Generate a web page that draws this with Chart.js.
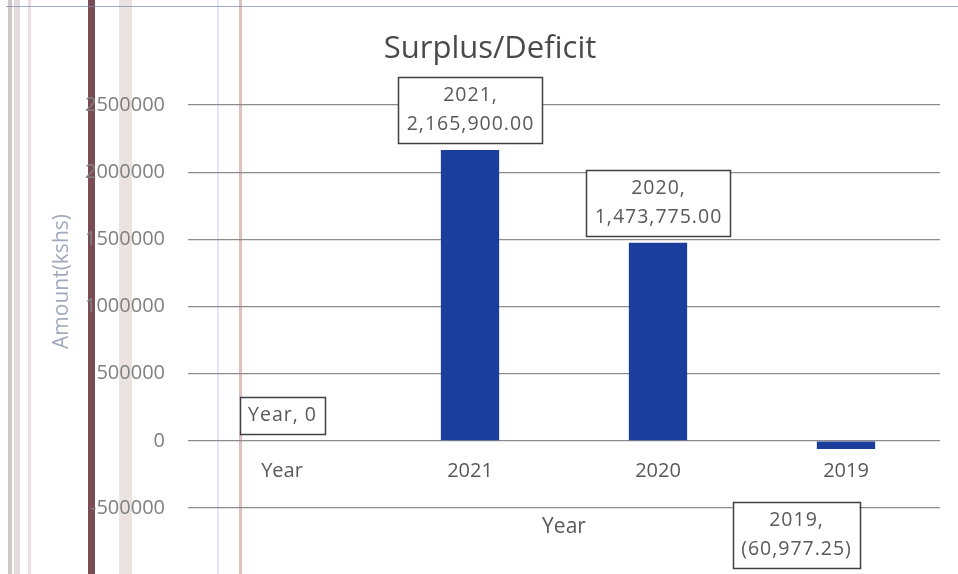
<!DOCTYPE html>
<html><head><meta charset="utf-8">
<script src="https://cdn.jsdelivr.net/npm/chart.js@4.4.1/dist/chart.umd.min.js"></script>
<style>html,body{margin:0;padding:0;background:#fff}#wrap{width:958px;height:574px;position:relative}</style>
</head><body><div id="wrap"><canvas id="c" width="958" height="574"></canvas></div>
<script>
// ---- data ----
const categories = ['Year', '2021', '2020', '2019'];
const surplusValues = [0, 2165900.00, 1473775.00, -60977.25];
const yTickValues = [-500000, 0, 500000, 1000000, 1500000, 2000000, 2500000];
const chartTitle = 'Surplus/Deficit';
const xTitle = 'Year';
const yTitle = 'Amount(kshs)';

const FONT = '"Open Sans"';

function fmtValue(v) {
  const s = Math.abs(v).toLocaleString('en-US', {minimumFractionDigits: 2, maximumFractionDigits: 2});
  return v < 0 ? '(' + s + ')' : s;
}

// faint scan-like frame lines behind the chart
const backdrop = {
  id: 'backdrop',
  beforeDraw(chart) {
    const ctx = chart.ctx;
    ctx.save();
    ctx.fillStyle = '#ffffff';
    ctx.fillRect(0, 0, chart.width, chart.height);
    const bands = [
      [8, 4, 'rgba(150,130,130,0.45)'], [14, 6, 'rgba(200,185,185,0.5)'], [28, 3, 'rgba(215,190,190,0.5)'],
      [88, 7, 'rgba(110,55,65,0.9)'], [119, 13, 'rgba(225,210,210,0.65)'],
      [217, 2, 'rgba(200,205,235,0.5)'], [239, 3, 'rgba(200,140,140,0.55)']
    ];
    bands.forEach(([x, w, c]) => { ctx.fillStyle = c; ctx.fillRect(x, 0, w, chart.height); });
    ctx.strokeStyle = 'rgba(120,135,175,0.7)';
    ctx.lineWidth = 1;
    ctx.beginPath(); ctx.moveTo(6, 6.5); ctx.lineTo(chart.width, 6.5); ctx.stroke();
    ctx.restore();
  }
};

// boxed data labels ("category, value")
const boxLabels = {
  id: 'boxLabels',
  afterDatasetsDraw(chart) {
    const ctx = chart.ctx;
    const meta = chart.getDatasetMeta(0);
    ctx.save();
    ctx.font = '19.5px ' + FONT;
    if ('letterSpacing' in ctx) ctx.letterSpacing = '1px';
    ctx.textAlign = 'center';
    ctx.textBaseline = 'middle';
    meta.data.forEach((bar, i) => {
      const v = surplusValues[i];
      const lines = v === 0 ? [categories[i] + ', 0'] : [categories[i] + ',', fmtValue(v)];
      const lh = 29;
      const w = Math.max(...lines.map(l => ctx.measureText(l).width)) + 16;
      const h = lines.length * lh + 8;
      let cx = bar.x, top;
      if (v >= 0) top = bar.y - 7 - h;
      else { cx = bar.x - 50; top = bar.y + 53; }
      const left = cx - w / 2;
      ctx.fillStyle = '#ffffff';
      ctx.fillRect(left, top, w, h);
      ctx.strokeStyle = '#404040';
      ctx.lineWidth = 1.5;
      ctx.strokeRect(Math.round(left) + 0.5, Math.round(top) + 0.5, Math.round(w), Math.round(h));
      ctx.fillStyle = '#595959';
      lines.forEach((l, k) => ctx.fillText(l, cx + 0.5, top + 4 + lh * (k + 0.5)));
    });
    ctx.restore();
  }
};

// y axis title drawn alongside the axis
const yAxisTitle = {
  id: 'yAxisTitle',
  afterDraw(chart) {
    const ctx = chart.ctx;
    const a = chart.chartArea;
    ctx.save();
    ctx.translate(62, (a.top + a.bottom) / 2 - 25);
    ctx.rotate(-Math.PI / 2);
    ctx.font = '21px ' + FONT;
    ctx.fillStyle = '#a3aabd';
    ctx.textAlign = 'center';
    ctx.textBaseline = 'middle';
    ctx.fillText(yTitle, 0, 0);
    ctx.restore();
  }
};

new Chart(document.getElementById('c'), {
  type: 'bar',
  data: {
    labels: categories,
    datasets: [{
      label: chartTitle,
      data: surplusValues,
      backgroundColor: '#1b3e9c',
      borderWidth: 0,
      categoryPercentage: 1,
      barPercentage: 0.31
    }]
  },
  options: {
    responsive: false,
    animation: false,
    layout: { padding: { left: 40, right: 18, top: 0, bottom: 66 } },
    plugins: {
      legend: { display: false },
      tooltip: { enabled: false },
      title: {
        display: true, text: chartTitle, color: '#4a4a4a',
        font: { family: FONT, size: 31, weight: 'normal' },
        padding: { top: 31, bottom: 36.8 }
      }
    },
    scales: {
      y: {
        min: -500000, max: 2500000,
        afterFit(s) { s.width = 148; },
        afterBuildTicks(s) { s.ticks = yTickValues.map(v => ({ value: v })); },
        ticks: {
          color: '#808080', padding: 23,
          font: { family: FONT, size: 20 },
          callback: v => String(v)
        },
        grid: { color: '#8c8c8c', lineWidth: 1.2, drawTicks: false },
        border: { display: false }
      },
      x: {
        position: { y: 0 },
        grid: { display: false, drawTicks: false },
        border: { display: false },
        ticks: { color: '#595959', padding: 18, font: { family: FONT, size: 20 } },
        title: {
          display: true, text: xTitle, color: '#595959',
          font: { family: FONT, size: 21 },
          padding: { top: 14, bottom: 0 }
        }
      }
    }
  },
  plugins: [backdrop, boxLabels, yAxisTitle]
});
</script>
</body></html>
